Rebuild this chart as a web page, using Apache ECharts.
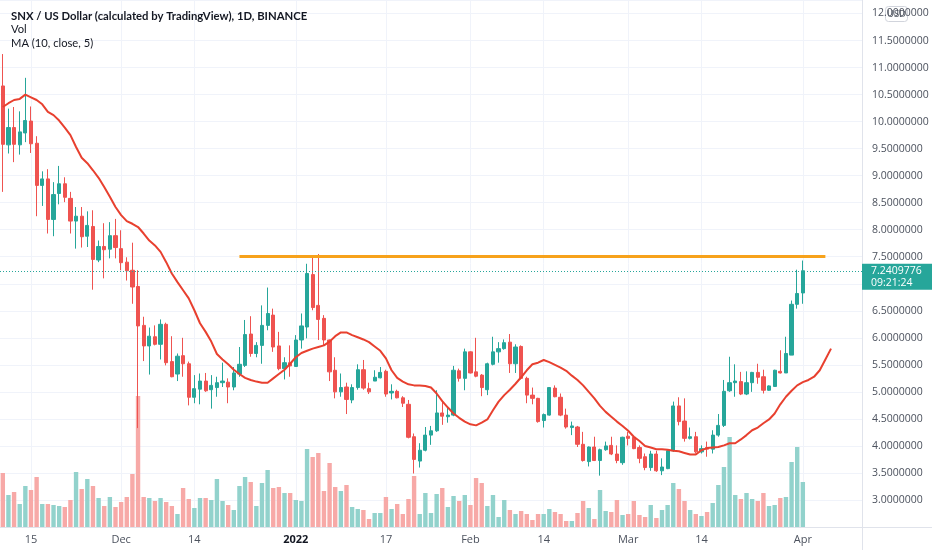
<!DOCTYPE html>
<html>
<head>
<meta charset="utf-8">
<script src="https://cdn.jsdelivr.net/npm/echarts@6/dist/echarts.min.js"></script>
<style>
html,body{margin:0;padding:0;background:#fff;}
#chart{width:932px;height:550px;}
</style>
</head>
<body>
<div id="chart"></div>
<script>
// ---- data ----
const startDate = '2021-11-10';
const categoryCount = 153;
const tickDates = ['2021-11-15','2021-12-01','2021-12-14','2022-01-01','2022-01-17','2022-02-01','2022-02-14','2022-03-01','2022-03-14','2022-04-01'];
const tickTexts = ['15','Dec','14','2022','17','Feb','14','Mar','14','Apr'];

const opens = [10.66,9.57,9.89,9.57,9.79,10.01,9.60,8.82,8.94,8.19,8.67,8.85,8.58,8.16,8.25,7.88,8.06,7.44,7.69,7.64,7.89,7.65,7.40,7.25,6.95,6.23,5.85,6.02,5.88,6.25,5.56,5.33,5.67,5.52,4.90,5.05,5.20,5.04,5.08,5.17,5.18,5.09,5.33,5.49,6.07,5.71,5.86,6.23,6.42,5.85,5.43,5.54,5.47,5.96,6.20,7.17,6.60,6.36,5.96,5.40,5.00,5.09,4.85,5.08,5.41,5.06,5.20,5.26,5.38,4.98,5.01,4.89,4.77,4.17,3.72,3.92,4.20,4.28,4.61,4.54,4.57,5.39,5.25,5.74,5.37,5.31,5.04,5.51,5.74,5.80,5.92,5.52,5.84,5.25,4.94,4.88,4.47,4.57,5.07,4.90,4.57,4.34,4.35,4.03,3.71,3.98,3.73,3.93,4.01,3.85,3.69,4.18,4.16,3.97,3.80,3.60,3.85,3.54,3.58,3.91,4.74,4.46,4.14,4.17,3.89,3.97,3.94,4.20,4.38,5.02,5.17,5.19,4.96,5.17,5.36,5.28,5.03,5.10,5.38,5.35,5.68,6.62,6.83];
const closes = [9.58,9.89,9.58,9.81,10.02,9.59,8.82,8.94,8.19,8.65,8.85,8.60,8.16,8.25,7.87,8.08,7.45,7.69,7.63,7.89,7.67,7.39,7.24,6.94,6.22,5.85,6.03,5.88,6.25,5.54,5.28,5.66,5.52,4.90,5.06,5.20,5.02,5.12,5.17,5.20,5.09,5.35,5.51,6.06,5.71,5.86,6.23,6.45,5.83,5.43,5.54,5.48,5.96,6.22,7.19,6.56,6.34,5.96,5.37,5.00,5.08,4.86,5.08,5.41,5.07,5.00,5.27,5.36,4.96,5.01,4.89,4.79,4.16,3.75,3.92,4.20,4.28,4.61,4.55,4.57,5.40,5.25,5.74,5.35,5.29,5.08,5.52,5.74,5.80,5.91,5.52,5.83,5.25,4.94,4.88,4.45,4.58,5.08,4.91,4.57,4.35,4.37,4.03,3.73,3.98,3.73,3.93,4.00,3.85,3.73,4.16,4.14,3.95,3.77,3.60,3.85,3.54,3.61,3.91,4.74,4.45,4.14,4.17,3.89,3.95,3.94,4.20,4.38,5.01,5.17,5.20,4.96,5.17,5.36,5.27,5.03,5.11,5.40,5.35,5.71,6.62,6.82,7.2409776];
const lows = [8.70,9.41,9.25,9.39,9.62,9.42,8.25,8.44,7.93,7.88,8.47,8.51,7.93,7.65,7.67,7.68,6.89,7.40,7.10,7.47,7.47,7.25,7.06,6.63,4.33,5.57,5.32,5.86,5.60,5.49,5.27,5.20,5.28,4.75,4.79,4.77,5.00,4.69,4.91,5.09,4.79,5.03,5.28,5.46,5.65,5.64,5.52,6.14,5.74,5.40,5.23,5.28,5.46,5.80,5.99,6.51,5.96,5.86,5.20,4.88,4.91,4.59,4.79,5.04,5.04,4.96,5.20,5.25,4.91,4.86,4.88,4.72,4.14,3.49,3.60,3.90,4.02,4.26,4.39,4.43,4.55,5.19,5.03,5.34,5.27,4.92,4.94,5.49,5.54,5.78,5.35,5.35,5.23,4.79,4.77,4.43,4.34,4.56,4.90,4.55,4.32,4.20,3.98,3.71,3.62,3.72,3.45,3.91,3.83,3.68,3.65,4.01,3.94,3.68,3.55,3.54,3.52,3.46,3.57,3.89,4.38,4.08,4.12,3.86,3.86,3.80,3.86,4.17,4.35,5.00,4.91,4.94,4.94,5.00,5.15,4.97,5.02,5.09,5.34,5.35,5.68,6.54,6.63];
const highs = [11.25,10.24,10.27,10.19,10.81,10.28,9.73,9.08,9.12,8.88,9.18,8.97,8.70,8.42,8.42,8.34,8.36,7.80,8.12,8.14,8.20,7.99,7.49,7.76,7.25,6.39,6.19,6.23,6.34,6.28,6.03,5.71,6.00,5.56,5.31,5.34,5.35,5.31,5.28,5.54,5.25,5.46,5.83,6.33,6.40,5.92,6.60,6.93,6.54,6.11,5.64,5.86,6.05,6.45,7.37,7.53,7.55,6.42,5.97,5.64,5.34,5.17,5.14,5.51,5.59,5.17,5.40,5.46,5.41,5.14,5.04,4.92,4.85,4.23,4.05,4.35,4.37,5.03,4.82,4.72,5.48,5.43,5.80,5.75,6.00,5.33,5.54,6.02,5.92,5.97,6.07,5.88,5.86,5.28,5.08,4.89,4.60,5.09,5.12,4.97,4.69,4.45,4.37,4.26,3.99,4.17,3.95,4.08,4.17,4.01,4.17,4.26,4.18,4.01,3.86,3.91,3.91,3.77,3.92,4.82,4.90,4.88,4.34,4.26,4.01,4.08,4.29,4.59,5.22,5.65,5.51,5.37,5.38,5.37,5.52,5.41,5.12,5.41,5.77,6.02,6.69,7.26,7.43];
const volumes = [5.4,3.2,3.5,2.3,4.1,3.7,5.0,2.3,2.3,2.2,2.1,2.0,2.7,5.5,3.8,4.8,4.1,2.9,2.1,3.0,2.0,2.5,3.0,5.3,13.1,3.0,2.9,2.6,2.9,2.5,2.1,1.3,3.9,2.8,1.9,2.9,2.9,2.7,4.8,2.6,2.2,1.7,4.1,5.0,4.5,2.1,4.4,5.7,3.9,4.0,3.4,3.4,2.7,2.6,7.8,7.0,7.4,3.6,6.4,4.0,3.6,4.2,2.0,1.8,1.7,0.8,1.4,1.4,3.0,1.8,2.3,1.3,2.8,5.1,1.3,3.4,1.4,3.3,3.9,2.0,3.1,2.6,3.2,2.2,4.9,4.4,2.1,3.2,1.0,2.7,1.7,1.3,1.6,1.3,0.7,1.3,1.3,1.8,1.5,1.3,0.6,0.6,1.4,2.6,1.9,0.8,3.7,1.6,1.5,2.7,1.2,1.3,2.6,1.2,1.0,2.2,0.9,1.7,2.2,4.4,3.8,2.6,1.7,1.3,1.1,1.5,2.4,4.2,6.0,9.0,3.2,2.8,3.4,2.8,2.6,3.4,2.1,2.2,2.9,3.0,6.5,8.0,4.5];
const maValues = [10.27,10.34,10.40,10.42,10.50,10.45,10.40,10.32,10.18,10.12,10.02,9.89,9.75,9.53,9.33,9.23,9.10,8.96,8.79,8.61,8.42,8.27,8.16,8.11,8.05,7.93,7.80,7.71,7.59,7.40,7.19,7.03,6.88,6.73,6.51,6.27,6.11,5.93,5.70,5.60,5.51,5.41,5.33,5.26,5.22,5.19,5.17,5.17,5.25,5.33,5.41,5.52,5.64,5.72,5.76,5.80,5.83,5.86,5.93,6.03,6.10,6.10,6.05,6.01,5.97,5.92,5.84,5.76,5.62,5.40,5.26,5.19,5.14,5.12,5.12,5.11,5.08,4.97,4.83,4.71,4.60,4.52,4.45,4.40,4.38,4.43,4.49,4.66,4.82,4.94,5.04,5.15,5.27,5.40,5.51,5.54,5.59,5.55,5.50,5.45,5.39,5.30,5.22,5.12,5.00,4.88,4.74,4.63,4.54,4.45,4.37,4.28,4.17,4.09,4.00,3.97,3.94,3.94,3.93,3.91,3.90,3.87,3.84,3.84,3.92,3.96,3.97,3.98,4.01,4.05,4.05,4.12,4.20,4.29,4.34,4.42,4.49,4.60,4.77,4.91,5.02,5.12,5.18,5.22,5.28,5.40,5.60,5.80];
const resistanceLevel = 7.5;
const resistanceStart = '2021-12-22';
const resistanceEnd = '2022-04-05';
const lastPriceTime = '09:21:24';
const titleText = 'SNX / US Dollar (calculated by TradingView), 1D, BINANCE';

// ---- build ----
const categories = [];
{
  const d0 = new Date(startDate + 'T00:00:00Z');
  for (let i = 0; i < categoryCount; i++) {
    const d = new Date(d0.getTime() + i * 86400000);
    categories.push(d.toISOString().slice(0, 10));
  }
}
const UP = '#26a69a', DOWN = '#ef5350';
const VOL_UP = '#92d2cc', VOL_DOWN = '#f7a9a7';
const candleData = opens.map((o, i) => [o, closes[i], lows[i], highs[i]]);
const volumeData = volumes.map((v, i) => ({
  value: v,
  itemStyle: { color: closes[i] >= opens[i] ? VOL_UP : VOL_DOWN }
}));
const lastClose = closes[closes.length - 1];
const isTick = (idx, val) => tickDates.indexOf(val !== undefined ? val : categories[idx]) >= 0;
const FONT = 'Open Sans';
const TFONT = 'Lato';

const chart = echarts.init(document.getElementById('chart'), null, { renderer: 'canvas' });
chart.setOption({
  animation: false,
  backgroundColor: '#ffffff',
  textStyle: { fontFamily: FONT },
  title: [
    { text: titleText, left: 6, top: 6, textStyle: { fontFamily: TFONT, fontSize: 11.3, fontWeight: 'bold', color: '#131722' } },
    { text: 'Vol', left: 6, top: 19, textStyle: { fontFamily: TFONT, fontSize: 11.2, fontWeight: 'normal', color: '#131722' } },
    { text: 'MA (10, close, 5)', left: 6, top: 33, textStyle: { fontFamily: TFONT, fontSize: 11.2, fontWeight: 'normal', color: '#131722' } }
  ],
  grid: [
    { left: 0, right: 70, top: 0, bottom: 23, containLabel: false },
    { left: 0, right: 70, bottom: 23, height: 200, containLabel: false }
  ],
  xAxis: [
    {
      type: 'category', gridIndex: 0, data: categories, boundaryGap: true,
      axisLine: { show: true, lineStyle: { color: '#e0e3eb' } },
      axisTick: { show: false },
      axisLabel: {
        interval: isTick, margin: 7, color: '#4c525e', fontSize: 11, fontFamily: FONT,
        formatter: (v) => {
          const k = tickDates.indexOf(v);
          if (k < 0) return '';
          const t = tickTexts[k];
          return t === '2022' ? '{b|' + t + '}' : t;
        },
        rich: { b: { fontWeight: 'bold', color: '#131722', fontSize: 11, fontFamily: FONT } }
      },
      splitLine: { show: true, interval: isTick, alignWithLabel: true, lineStyle: { color: '#f0f3fa' } }
    },
    {
      type: 'category', gridIndex: 1, data: categories, boundaryGap: true, show: false
    }
  ],
  yAxis: [
    {
      type: 'value', gridIndex: 0, position: 'right', min: 2.5, max: 12.25, interval: 0.5, scale: true,
      axisLine: { show: true, lineStyle: { color: '#e0e3eb' } },
      axisTick: { show: false },
      axisLabel: {
        margin: 10, color: '#4c525e', fontSize: 10.5, fontFamily: FONT,
        formatter: (v) => (v < 2.99 || v > 12.01) ? '' : v.toFixed(7)
      },
      splitLine: { show: true, lineStyle: { color: '#f0f3fa' } }
    },
    { type: 'value', gridIndex: 1, min: 0, max: 20, show: false }
  ],
  series: [
    {
      name: 'Vol', type: 'bar', xAxisIndex: 1, yAxisIndex: 1, data: volumeData,
      barWidth: '78%', z: 1, silent: true
    },
    {
      name: 'SNXUSD', type: 'candlestick', xAxisIndex: 0, yAxisIndex: 0, data: candleData,
      barWidth: '66%', z: 3,
      itemStyle: { color: UP, color0: DOWN, borderColor: UP, borderColor0: DOWN, borderWidth: 1 },
      markLine: {
        silent: true, symbol: ['none', 'none'], animation: false,
        data: [
          {
            yAxis: lastClose,
            lineStyle: { color: UP, type: [1, 2], width: 1 },
            label: {
              show: true, position: 'end', distance: 0,
              formatter: lastClose.toFixed(7) + '\n' + lastPriceTime,
              backgroundColor: UP, color: '#ffffff', fontSize: 10.5, fontFamily: FONT,
              lineHeight: 12, padding: [1, 14, 1, 9], offset: [0, 6]
            }
          },
          [
            { coord: [resistanceStart, resistanceLevel], lineStyle: { color: '#f7a21b', width: 3, type: 'solid' }, label: { show: false } },
            { coord: [resistanceEnd, resistanceLevel] }
          ]
        ]
      }
    },
    {
      name: 'MA', type: 'line', xAxisIndex: 0, yAxisIndex: 0, data: maValues,
      showSymbol: false, symbol: 'none', z: 4,
      lineStyle: { color: '#e8402f', width: 2 }
    }
  ],
  graphic: [
    { type: 'line', shape: { x1: 862.5, y1: 527, x2: 862.5, y2: 550 }, style: { stroke: '#e0e3eb', lineWidth: 1 }, silent: true },
    { type: 'line', shape: { x1: 862, y1: 527.5, x2: 932, y2: 527.5 }, style: { stroke: '#e0e3eb', lineWidth: 1 }, silent: true },
    {
      type: 'group', right: 24, top: 6, silent: true, z: 100,
      children: [
        { type: 'rect', shape: { x: 0, y: 0, width: 22, height: 15, r: 3 }, style: { fill: '#ffffff', stroke: '#d1d4dc', lineWidth: 1 } },
        { type: 'text', style: { x: 11, y: 7.5, text: 'USD', fill: '#4c525e', fontSize: 9.5, fontFamily: FONT, align: 'center', verticalAlign: 'middle' } }
      ]
    }
  ]
});
</script>
</body>
</html>
